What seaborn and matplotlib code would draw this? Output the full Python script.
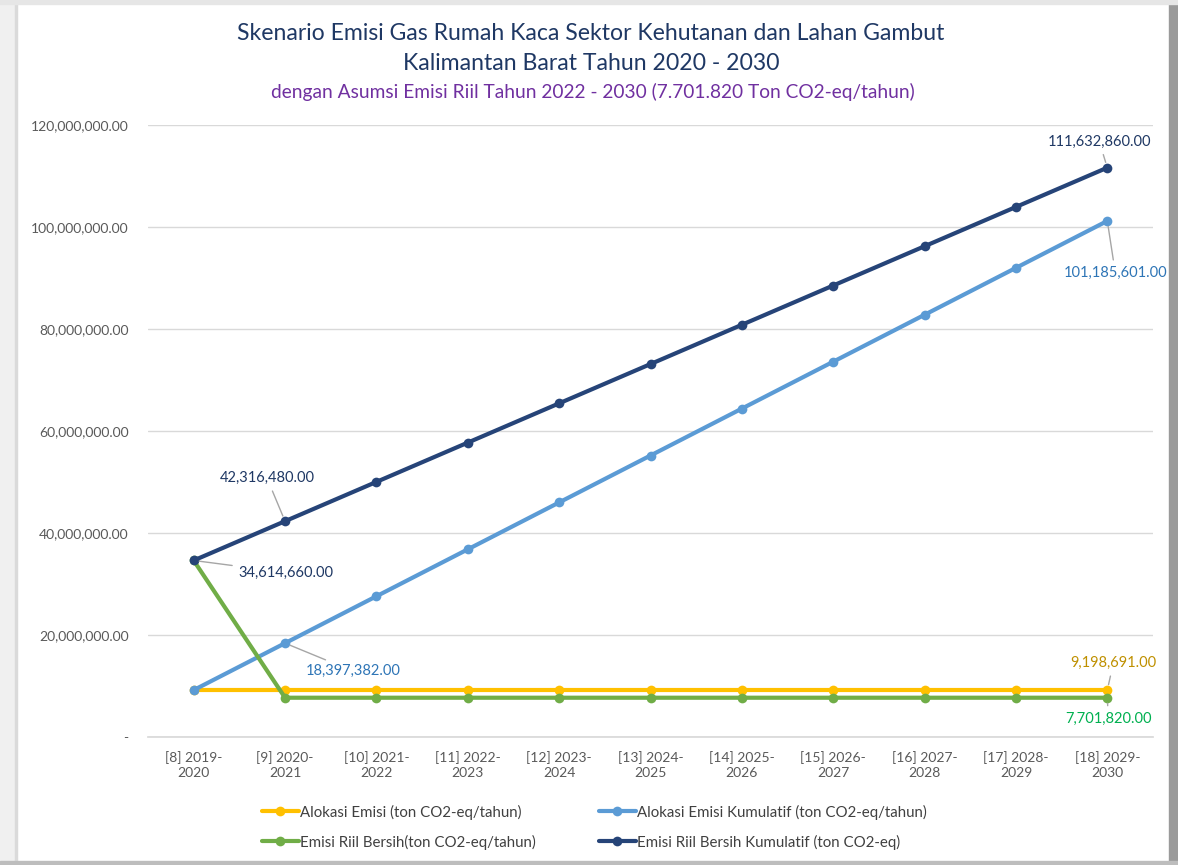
import matplotlib
matplotlib.use("Agg")
import matplotlib.pyplot as plt
import matplotlib.ticker as mticker
from matplotlib.patches import Rectangle
import seaborn as sns
import pandas as pd

categories = ["[8] 2019-\n2020", "[9] 2020-\n2021", "[10] 2021-\n2022", "[11] 2022-\n2023",
              "[12] 2023-\n2024", "[13] 2024-\n2025", "[14] 2025-\n2026", "[15] 2026-\n2027",
              "[16] 2027-\n2028", "[17] 2028-\n2029", "[18] 2029-\n2030"]

alokasi_emisi = [9198691, 9198691, 9198691, 9198691, 9198691, 9198691,
                 9198691, 9198691, 9198691, 9198691, 9198691]
alokasi_kumulatif = [9198691, 18397382, 27596073, 36794764, 45993455, 55192146,
                     64390837, 73589528, 82788219, 91986910, 101185601]
emisi_riil = [34614660, 7701820, 7701820, 7701820, 7701820, 7701820,
              7701820, 7701820, 7701820, 7701820, 7701820]
emisi_riil_kumulatif = [34614660, 42316480, 50018300, 57720120, 65421940, 73123760,
                        80825580, 88527400, 96229220, 103931040, 111632860]

series_names = ["Alokasi Emisi (ton CO2-eq/tahun)",
                "Alokasi Emisi Kumulatif (ton CO2-eq/tahun)",
                "Emisi Riil Bersih(ton CO2-eq/tahun)",
                "Emisi Riil Bersih Kumulatif (ton CO2-eq)"]
series_values = [alokasi_emisi, alokasi_kumulatif, emisi_riil, emisi_riil_kumulatif]
colors = ["#FFC000", "#5B9BD5", "#70AD47", "#264478"]

rows = []
for name, vals in zip(series_names, series_values):
    for i, v in enumerate(vals):
        rows.append({"x": i, "value": v, "series": name})
df = pd.DataFrame(rows)

sns.set_theme(style="white")
plt.rcParams["font.family"] = ["Lato", "DejaVu Sans"]

fig = plt.figure(figsize=(11.78, 8.65), dpi=100)
fig.patch.set_facecolor("white")
# frame / shadow
fig.patches.append(Rectangle((0, 0), 15/1178, 1, transform=fig.transFigure, color="#F0F0F0", zorder=0))
fig.patches.append(Rectangle((15/1178, 0), 2/1178, 1, transform=fig.transFigure, color="#DADADA", zorder=0))
fig.patches.append(Rectangle((1169/1178, 0), 9/1178, 1, transform=fig.transFigure, color="#9A9A9A", zorder=0))
fig.patches.append(Rectangle((0, 0), 1, 4/865, transform=fig.transFigure, color="#BDBDBD", zorder=0))
fig.patches.append(Rectangle((0, 861/865), 1, 4/865, transform=fig.transFigure, color="#E6E6E6", zorder=0))

ax = fig.add_axes([148/1178, 128/865, 1005/1178, 612/865])
ax.set_facecolor("none")

sns.lineplot(data=df, x="x", y="value", hue="series", hue_order=series_names,
             palette=colors, marker="o", markersize=7, markeredgewidth=0,
             linewidth=3, ax=ax, legend=True)

ax.set_xlim(-0.5, 10.5)
ax.set_ylim(0, 120e6)
ax.set_yticks([0, 20e6, 40e6, 60e6, 80e6, 100e6, 120e6])
ax.yaxis.set_major_formatter(mticker.FuncFormatter(lambda v, p: "-" if v == 0 else f"{v:,.2f}"))
ax.set_xticks(range(len(categories)))
ax.set_xticklabels(categories, linespacing=1.3)
ax.tick_params(axis="both", colors="#595959", labelsize=10, length=0)
ax.tick_params(axis="y", pad=14)
ax.tick_params(axis="x", pad=10)
ax.set_xlabel("")
ax.set_ylabel("")
ax.grid(axis="y", color="#D9D9D9", linewidth=1)
ax.set_axisbelow(True)
for s in ["top", "right", "left"]:
    ax.spines[s].set_visible(False)
ax.spines["bottom"].set_color("#D9D9D9")

# legend
handles, labels = ax.get_legend_handles_labels()
hmap = dict(zip(labels, handles))
order = [series_names[0], series_names[2], series_names[1], series_names[3]]
ax.legend([hmap[l] for l in order], order, ncol=2, frameon=False,
          loc="center", bbox_to_anchor=(594/1178, 1 - 827/865), bbox_transform=fig.transFigure,
          fontsize=10.8, labelcolor="#404040", handlelength=2.5, handletextpad=0.05,
          columnspacing=4.2, labelspacing=1.0)

# annotations
lc = "#A6A6A6"
def ann(x, y, text, dx, dy, color, ha="center"):
    ax.annotate(text, xy=(x, y), xytext=(dx, dy), textcoords="offset pixels",
                ha=ha, va="center", fontsize=10.5, color=color,
                arrowprops=dict(arrowstyle="-", color=lc, lw=1, shrinkA=2, shrinkB=4))

ann(1, emisi_riil_kumulatif[1], f"{emisi_riil_kumulatif[1]:,.2f}", -18, 43, "#1F3864")
ann(0, emisi_riil_kumulatif[0], f"{emisi_riil_kumulatif[0]:,.2f}", 92, -12, "#1F3864")
ann(1, alokasi_kumulatif[1], f"{alokasi_kumulatif[1]:,.2f}", 68, -28, "#2E75B6")
ann(10, emisi_riil_kumulatif[10], f"{emisi_riil_kumulatif[10]:,.2f}", -8, 26, "#1F3864")
ann(10, alokasi_kumulatif[10], f"{alokasi_kumulatif[10]:,.2f}", 8, -52, "#2E75B6")
ann(10, alokasi_emisi[10], f"{alokasi_emisi[10]:,.2f}", 6, 27, "#BF9000")
ann(10, emisi_riil[10], f"{emisi_riil[10]:,.2f}", 1, -21, "#00B050")

# titles
fig.text(591/1178, 1 - 33/865, "Skenario Emisi Gas Rumah Kaca Sektor Kehutanan dan Lahan Gambut",
         ha="center", va="center", fontsize=16.6, color="#1F3864")
fig.text(591/1178, 1 - 63/865, "Kalimantan Barat Tahun 2020 - 2030",
         ha="center", va="center", fontsize=16.6, color="#1F3864")
fig.text(593/1178, 1 - 92/865, "dengan Asumsi Emisi Riil Tahun 2022 - 2030 (7.701.820 Ton CO2-eq/tahun)",
         ha="center", va="center", fontsize=13.8, color="#7030A0")

fig.savefig("out.png", dpi=100)
